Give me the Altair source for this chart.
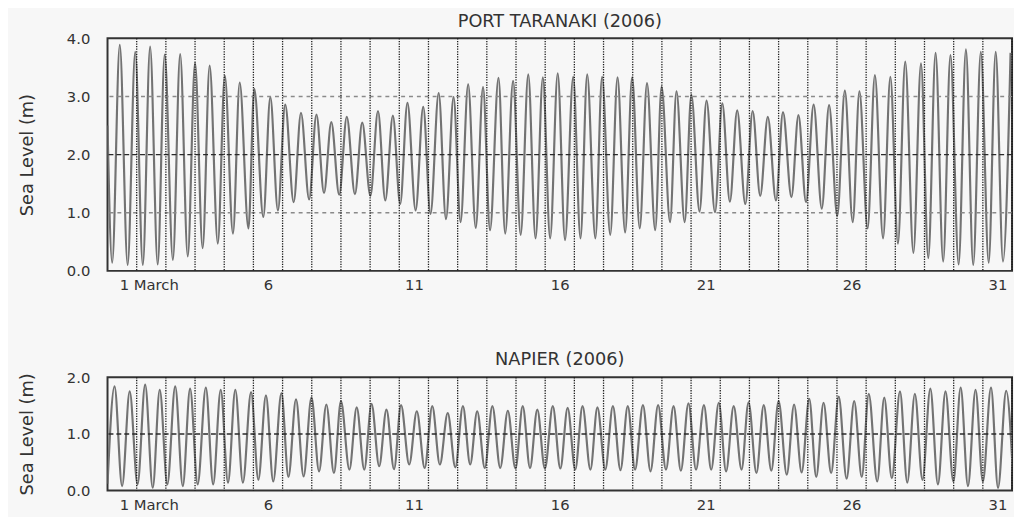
import altair as alt
import pandas as pd

# ---------------- data ----------------
# x = day of March 2006 (1.0 = 1 March 00:00), y = sea level (m)
tar_high_day = [1.42, 1.95, 2.46, 2.96, 3.49, 4.00, 4.50, 5.02, 5.53, 6.03,
                6.58, 7.09, 7.63, 8.16, 8.67, 9.20, 9.73, 10.27, 10.78, 11.28,
                11.82, 12.35, 12.86, 13.36, 13.87, 14.40, 14.90, 15.42, 15.92, 16.43,
                16.96, 17.44, 17.95, 18.48, 18.98, 19.49, 19.99, 20.50, 21.01, 21.53,
                22.07, 22.58, 23.11, 23.63, 24.15, 24.68, 25.20, 25.73, 26.27, 26.77,
                27.30, 27.83, 28.34, 28.88, 29.38, 29.89, 30.42, 30.93, 31.44]
tar_high_m = [3.89, 3.77, 3.86, 3.72, 3.73, 3.58, 3.53, 3.36, 3.24, 3.13,
              2.99, 2.86, 2.72, 2.69, 2.56, 2.65, 2.55, 2.75, 2.67, 2.89,
              2.82, 3.06, 2.99, 3.21, 3.16, 3.32, 3.27, 3.38, 3.33, 3.40,
              3.34, 3.38, 3.34, 3.33, 3.33, 3.23, 3.17, 3.09, 3.03, 2.93,
              2.88, 2.76, 2.75, 2.65, 2.73, 2.68, 2.86, 2.85, 3.10, 3.09,
              3.37, 3.34, 3.60, 3.57, 3.75, 3.71, 3.81, 3.77, 3.77]
tar_low_day = [1.16, 1.69, 2.21, 2.72, 3.24, 3.75, 4.26, 4.78, 5.30, 5.83,
               6.34, 6.84, 7.38, 7.91, 8.42, 8.94, 9.48, 10.01, 10.52, 11.03,
               11.56, 12.07, 12.60, 13.10, 13.62, 14.11, 14.63, 15.16, 15.67, 16.17,
               16.68, 17.21, 17.72, 18.23, 18.74, 19.24, 19.77, 20.28, 20.78, 21.29,
               21.82, 22.33, 22.86, 23.37, 23.91, 24.44, 24.94, 25.48, 26.01, 26.54,
               27.05, 27.58, 28.09, 28.62, 29.13, 29.64, 30.17, 30.67, 31.20, 31.69]
tar_low_m = [0.14, 0.10, 0.10, 0.11, 0.19, 0.25, 0.39, 0.47, 0.64, 0.73,
             0.93, 1.04, 1.18, 1.23, 1.34, 1.31, 1.32, 1.29, 1.21, 1.15,
             1.04, 0.98, 0.89, 0.84, 0.74, 0.70, 0.64, 0.62, 0.56, 0.56,
             0.53, 0.56, 0.56, 0.62, 0.66, 0.73, 0.70, 0.84, 0.84, 1.02,
             1.01, 1.19, 1.15, 1.29, 1.21, 1.27, 1.18, 1.07, 0.95, 0.84,
             0.73, 0.56, 0.47, 0.31, 0.22, 0.16, 0.11, 0.10, 0.14, 0.16]
tar_edge_day = [1.00, 31.95]
tar_edge_m = [2.50, 3.75]

nap_high_day = [1.24, 1.76, 2.29, 2.79, 3.32, 3.83, 4.37, 4.88, 5.38, 5.92,
                6.43, 6.96, 7.46, 7.99, 8.50, 9.00, 9.54, 10.05, 10.56, 11.06,
                11.60, 12.13, 12.66, 13.18, 13.67, 14.19, 14.72, 15.23, 15.73, 16.26,
                16.77, 17.28, 17.79, 18.32, 18.83, 19.35, 19.87, 20.40, 20.91, 21.44,
                21.95, 22.46, 22.97, 23.49, 24.00, 24.53, 25.05, 25.54, 26.06, 26.59,
                27.09, 27.62, 28.16, 28.67, 29.20, 29.72, 30.24, 30.75, 31.28, 31.80]
nap_high_m = [1.84, 1.75, 1.87, 1.78, 1.84, 1.80, 1.82, 1.78, 1.78, 1.74,
              1.68, 1.72, 1.61, 1.64, 1.52, 1.58, 1.47, 1.53, 1.43, 1.51,
              1.40, 1.49, 1.37, 1.49, 1.40, 1.49, 1.41, 1.49, 1.43, 1.49,
              1.46, 1.49, 1.47, 1.49, 1.49, 1.51, 1.51, 1.49, 1.54, 1.51,
              1.55, 1.49, 1.56, 1.51, 1.58, 1.52, 1.62, 1.55, 1.66, 1.58,
              1.71, 1.64, 1.75, 1.71, 1.80, 1.75, 1.82, 1.78, 1.82, 1.76]
nap_low_day = [1.50, 2.03, 2.55, 3.05, 3.58, 4.09, 4.62, 5.13, 5.64, 6.17,
               6.68, 7.20, 7.72, 8.25, 8.76, 9.29, 9.80, 10.31, 10.82,
               11.34, 11.87, 12.39, 12.92, 13.43, 13.93, 14.46, 14.98, 15.48, 15.99,
               16.52, 17.03, 17.55, 18.06, 18.58, 19.08, 19.61, 20.14, 20.65, 21.17,
               21.69, 22.20, 22.73, 23.24, 23.75, 24.28, 24.79, 25.29, 25.80, 26.33,
               26.85, 27.38, 27.88, 28.41, 28.93, 29.46, 29.99, 30.49, 31.00, 31.52]
nap_low_m = [0.08, 0.11, 0.05, 0.11, 0.08, 0.11, 0.11, 0.14, 0.14, 0.19,
             0.16, 0.24, 0.25, 0.34, 0.31, 0.37, 0.37, 0.43, 0.38,
             0.46, 0.40, 0.46, 0.41, 0.46, 0.40, 0.40, 0.39, 0.40, 0.39,
             0.39, 0.37, 0.37, 0.37, 0.36, 0.37, 0.34, 0.37, 0.35, 0.37,
             0.37, 0.34, 0.37, 0.31, 0.35, 0.28, 0.32, 0.24, 0.31, 0.21,
             0.24, 0.16, 0.22, 0.14, 0.19, 0.11, 0.16, 0.08, 0.16, 0.05]
nap_edge_day = [1.00, 32.05]
nap_edge_m = [0.12, 0.10]

day_label_days = [1, 6, 11, 16, 21, 26, 31]
day_grid = list(range(2, 33))

tar_levels_minor = [1.0, 3.0]
tar_levels_major = [2.0]
tar_ticks = [0.0, 1.0, 2.0, 3.0, 4.0]
nap_levels_major = [1.0]
nap_ticks = [0.0, 1.0, 2.0]

# ---------------- styling ----------------
FONT = "DejaVu Sans"
TXT = "#333333"
LINE = "#737373"
DAY0, DAY1 = 1, 32
PLOT_W = 918


def series(hd, hm, ld, lm, ed, em):
    df = pd.concat([
        pd.DataFrame({"day": hd, "m": hm}),
        pd.DataFrame({"day": ld, "m": lm}),
        pd.DataFrame({"day": ed, "m": em}),
    ]).sort_values("day")
    return df


label_pos = [d + 0.5 for d in day_label_days]

x_axis = alt.Axis(
    values=label_pos,
    labelExpr="datum.value < 2 ? '1 March' : format(datum.value - 0.5, 'd')",
    labelAlign={"condition": {"test": "datum.value < 2", "value": "left"}, "value": "center"},
    labelOffset={"condition": {"test": "datum.value < 2", "value": -3}, "value": 0},
    grid=False, ticks=False, domain=False,
    labelPadding=7, labelFontSize=15, labelColor=TXT, labelFont=FONT,
    title=None,
)


def y_axis(vals):
    return alt.Axis(
        values=vals, format=".1f", grid=False, ticks=False, domain=False,
        labelPadding=18, labelFontSize=15, labelColor=TXT, labelFont=FONT,
        title="Sea Level (m)", titleFontSize=18, titleFontWeight="normal",
        titleColor=TXT, titleFont=FONT, titlePadding=30,
    )


def panel(df, title, ymax, ticks, minor, major, height):
    xs = alt.Scale(domain=[DAY0, DAY1], nice=False, zero=False)
    ys = alt.Scale(domain=[0, ymax], nice=False, zero=False)
    line = alt.Chart(df).mark_line(
        interpolate="monotone", color=LINE, strokeWidth=2.2, clip=True
    ).encode(
        x=alt.X("day:Q", scale=xs, axis=x_axis),
        y=alt.Y("m:Q", scale=ys, axis=y_axis(ticks)),
    )
    layers = [line]
    if minor:
        layers.append(
            alt.Chart(pd.DataFrame({"lvl": minor})).mark_rule(
                color="#8a8a8a", strokeDash=[4, 4], strokeWidth=1.4
            ).encode(y=alt.Y("lvl:Q", scale=ys))
        )
    layers.append(
        alt.Chart(pd.DataFrame({"lvl": major})).mark_rule(
            color="#2a2a2a", strokeDash=[5, 3], strokeWidth=1.4
        ).encode(y=alt.Y("lvl:Q", scale=ys))
    )
    layers.append(
        alt.Chart(pd.DataFrame({"d": day_grid})).mark_rule(
            color="#1a1a1a", strokeDash=[1.3, 1.3], strokeWidth=1.3
        ).encode(x=alt.X("d:Q", scale=xs))
    )
    return alt.layer(*layers).properties(
        width=PLOT_W, height=height,
        title=alt.TitleParams(title, fontSize=18, fontWeight="normal", color=TXT,
                              font=FONT, offset=1, anchor="middle"),
    )


top = panel(series(tar_high_day, tar_high_m, tar_low_day, tar_low_m, tar_edge_day, tar_edge_m),
            "PORT TARANAKI (2006)", 4, tar_ticks, tar_levels_minor, tar_levels_major, 236)
bottom = panel(series(nap_high_day, nap_high_m, nap_low_day, nap_low_m, nap_edge_day, nap_edge_m),
               "NAPIER (2006)", 2, nap_ticks, [], nap_levels_major, 115)

chart = alt.vconcat(top, bottom, spacing=58).properties(
    background="#f7f7f7",
    padding={"left": 10, "top": 0, "right": 0, "bottom": 0},
).configure_view(
    stroke="#333333", strokeWidth=2, fill="#f7f7f7"
)

chart.save("out.html", embed_options={"renderer": "svg", "actions": False})
